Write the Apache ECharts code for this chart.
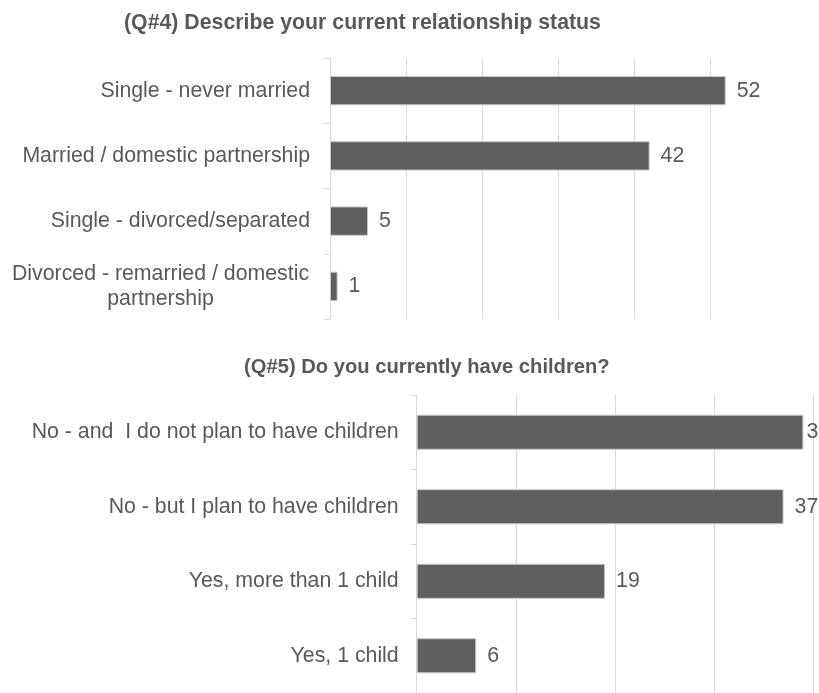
<!DOCTYPE html>
<html>
<head>
<meta charset="utf-8">
<script src="https://cdn.jsdelivr.net/npm/echarts@6/dist/echarts.min.js"></script>
<style>
  html, body { margin: 0; padding: 0; background: #ffffff; }
  #chart { width: 819px; height: 693px; }
</style>
</head>
<body>
<div id="chart"></div>
<script>
// Q#4 — relationship status (percent of respondents)
const statusTitle = '(Q#4) Describe your current relationship status';
const statusCategories = [
  'Single - never married',
  'Married / domestic partnership',
  'Single - divorced/separated',
  'Divorced - remarried / domestic\npartnership'
];
const statusValues = [52, 42, 5, 1];

// Q#5 — children (percent of respondents)
const childrenTitle = '(Q#5) Do you currently have children?';
const childrenCategories = [
  'No - and  I do not plan to have children',
  'No - but I plan to have children',
  'Yes, more than 1 child',
  'Yes, 1 child'
];
const childrenValues = [39, 37, 19, 6];

const FONT = '"Liberation Sans", Arial, Helvetica, sans-serif';
const TEXT = '#595959';
const GRID_LINE = '#d9d9d9';
const BAR = '#5f5f5f';
const LABEL_SIZE = 21.3;

// widest line of a wrapped category label, so its lines can be centred on each other
const measureCtx = document.createElement('canvas').getContext('2d');
measureCtx.font = LABEL_SIZE + 'px ' + FONT;
function widestLine(labels) {
  let w = 0;
  labels.forEach(l => l.split('\n').forEach(s => { w = Math.max(w, measureCtx.measureText(s).width); }));
  return Math.ceil(w) + 1;
}

const chart = echarts.init(document.getElementById('chart'), null, { renderer: 'canvas' });

function valueAxis(gridIndex, max, showMax) {
  return {
    type: 'value', gridIndex, min: 0, max, interval: 10,
    axisLabel: { show: false }, axisLine: { show: false }, axisTick: { show: false },
    splitLine: { show: true, showMaxLine: showMax, lineStyle: { color: GRID_LINE, width: 1 } }
  };
}

function categoryAxis(gridIndex, data, margin) {
  const blockWidth = widestLine(data.filter(d => d.indexOf('\n') >= 0));
  return {
    type: 'category', gridIndex, data, inverse: true,
    axisLine: { show: true, lineStyle: { color: GRID_LINE, width: 1 } },
    axisTick: { show: true, length: 6, lineStyle: { color: GRID_LINE } },
    axisLabel: {
      color: TEXT, fontFamily: FONT, fontSize: LABEL_SIZE, margin,
      align: 'right', lineHeight: 25,
      formatter: v => v.indexOf('\n') >= 0
        ? v.split('\n').map(s => '{c|' + s + '}').join('\n')
        : v,
      rich: {
        c: { width: blockWidth, align: 'center', color: TEXT, fontFamily: FONT,
             fontSize: LABEL_SIZE, lineHeight: 25 }
      }
    }
  };
}

function barSeries(index, values, barWidth, labelDistances) {
  return {
    type: 'bar', xAxisIndex: index, yAxisIndex: index, barWidth,
    data: values.map((v, i) => ({
      value: v,
      label: { distance: labelDistances[i] }
    })),
    itemStyle: { color: BAR, borderColor: '#c8c8c8', borderWidth: 1 },
    label: {
      show: true, position: 'right', color: TEXT,
      fontFamily: FONT, fontSize: LABEL_SIZE
    },
    silent: true, animation: false
  };
}

chart.setOption({
  backgroundColor: '#ffffff',
  animation: false,
  title: [
    { text: statusTitle, left: 119, top: 8,
      textStyle: { color: TEXT, fontFamily: FONT, fontSize: 21.3, fontWeight: 'bold' } },
    { text: childrenTitle, left: 239, top: 352,
      textStyle: { color: TEXT, fontFamily: FONT, fontSize: 20.2, fontWeight: 'bold' } }
  ],
  grid: [
    { left: 330, top: 58, width: 456.6, height: 261, containLabel: false },
    { left: 416.7, top: 395, width: 396.6, height: 300, containLabel: false }
  ],
  xAxis: [valueAxis(0, 60, false), valueAxis(1, 40, true)],
  yAxis: [categoryAxis(0, statusCategories, 20), categoryAxis(1, childrenCategories, 18)],
  series: [
    barSeries(0, statusValues, '45%', [11, 11, 11, 11]),
    barSeries(1, childrenValues, '47%', [3, 11, 11, 11])
  ]
});
</script>
</body>
</html>
